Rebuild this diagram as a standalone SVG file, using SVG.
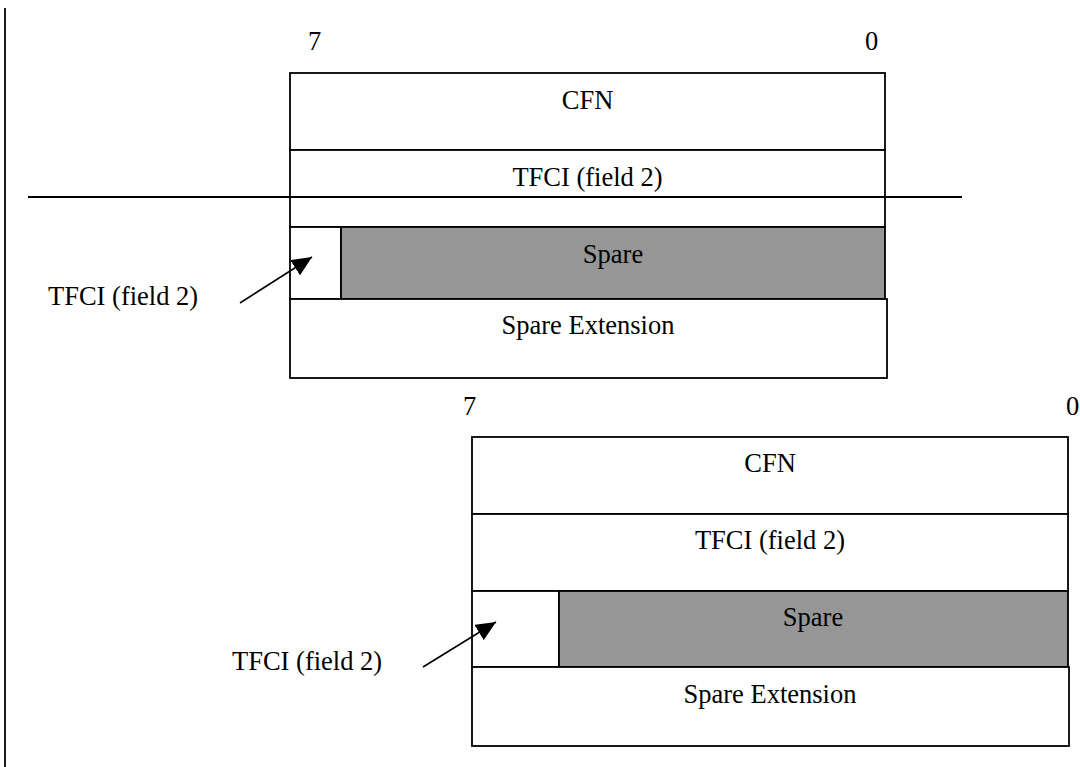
<svg xmlns="http://www.w3.org/2000/svg" width="1080" height="767" viewBox="0 0 1080 767">
  <style>
    .lbl { font-family: "Liberation Serif", "Times New Roman", serif; font-size: 26.5px; fill: #000; }
    .mid { text-anchor: middle; }
    .cell { fill: #fff; stroke: #000; stroke-width: 1.8; }
    .spare { fill: #969696; stroke: #000; stroke-width: 1.8; }
    .rule { stroke: #000; stroke-width: 1.8; fill: none; }
    .ptr { stroke: #000; stroke-width: 1.6; fill: none; }
  </style>
  <defs>
    <marker id="head" markerUnits="userSpaceOnUse" markerWidth="20" markerHeight="18" viewBox="0 0 20 18" refX="20" refY="9" orient="auto">
      <path d="M0,0 L20,9 L0,18 z" fill="#000"/>
    </marker>
  </defs>
  <rect width="1080" height="767" fill="#fff"/>

  <!-- page margin bar -->
  <line class="rule" x1="5" y1="8" x2="5" y2="767" stroke-width="2"/>

  <!-- upper frame layout -->
  <g id="frame-upper">
    <text class="lbl" x="308" y="50">7</text>
    <text class="lbl" x="865" y="50">0</text>
    <g id="upper-cfn">
      <rect class="cell" x="290" y="73" width="595" height="77"/>
      <text class="lbl mid" x="587.5" y="109">CFN</text>
    </g>
    <g id="upper-tfci">
      <rect class="cell" x="290" y="150" width="595" height="77"/>
      <text class="lbl mid" x="587.5" y="186">TFCI (field 2)</text>
    </g>
    <g id="upper-tfci-bit">
      <rect class="cell" x="290" y="227" width="51" height="72"/>
    </g>
    <g id="upper-spare">
      <rect class="spare" x="341" y="227" width="544" height="72"/>
      <text class="lbl mid" x="613" y="263">Spare</text>
    </g>
    <g id="upper-spare-ext">
      <rect class="cell" x="290" y="299" width="597" height="79"/>
      <text class="lbl mid" x="588" y="334">Spare Extension</text>
    </g>
    <g id="upper-tfci-label">
      <text class="lbl" x="48" y="305">TFCI (field 2)</text>
    </g>
  </g>

  <!-- lower frame layout -->
  <g id="frame-lower">
    <text class="lbl" x="463" y="415">7</text>
    <text class="lbl" x="1066" y="415">0</text>
    <g id="lower-cfn">
      <rect class="cell" x="472" y="437" width="596" height="77"/>
      <text class="lbl mid" x="770" y="472">CFN</text>
    </g>
    <g id="lower-tfci">
      <rect class="cell" x="472" y="514" width="596" height="77"/>
      <text class="lbl mid" x="770" y="549">TFCI (field 2)</text>
    </g>
    <g id="lower-tfci-bit">
      <rect class="cell" x="472" y="591" width="87" height="76"/>
    </g>
    <g id="lower-spare">
      <rect class="spare" x="559" y="591" width="509" height="76"/>
      <text class="lbl mid" x="813" y="626">Spare</text>
    </g>
    <g id="lower-spare-ext">
      <rect class="cell" x="472" y="667" width="597" height="79"/>
      <text class="lbl mid" x="770" y="703">Spare Extension</text>
    </g>
    <g id="lower-tfci-label">
      <text class="lbl" x="232" y="670">TFCI (field 2)</text>
    </g>
  </g>

  <!-- separator and pointers -->
  <g id="connectors">
    <line class="rule" x1="28" y1="197" x2="962" y2="197"/>
    <line class="ptr" x1="240" y1="303" x2="312" y2="257" marker-end="url(#head)"/>
    <line class="ptr" x1="423" y1="667" x2="496" y2="622" marker-end="url(#head)"/>
  </g>
</svg>
